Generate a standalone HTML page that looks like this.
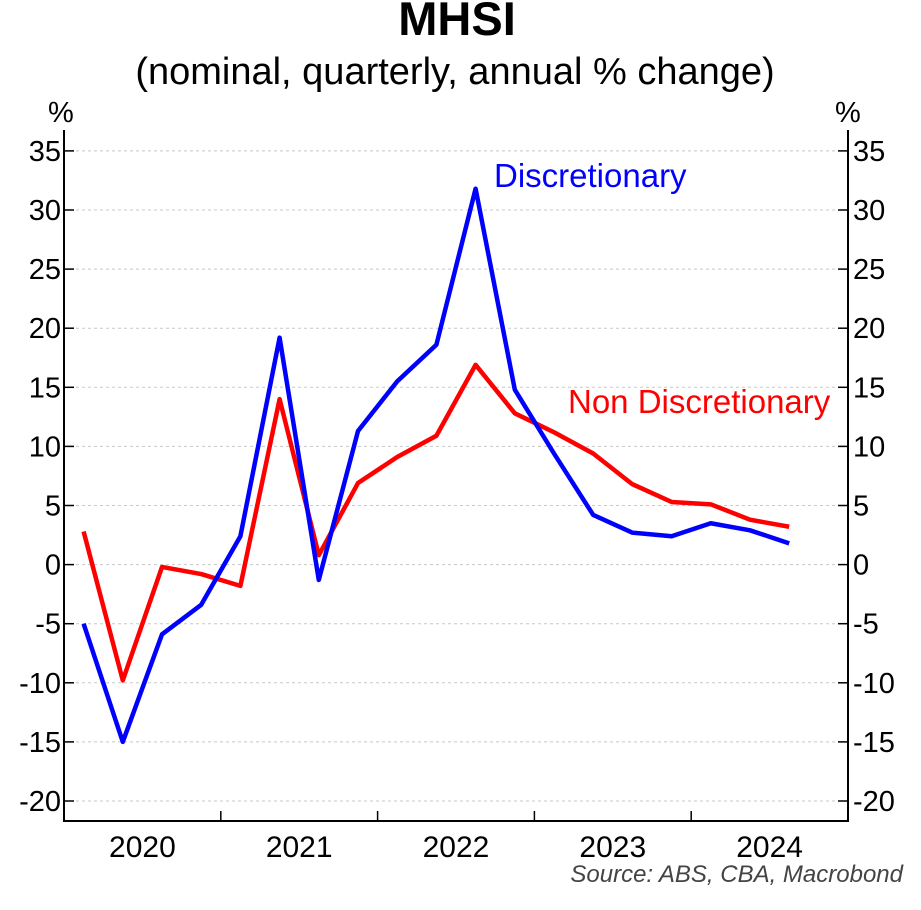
<!DOCTYPE html>
<html><head><meta charset="utf-8"><style>
body{margin:0;background:#fff;}
svg text{font-family:"Liberation Sans",Arial,sans-serif;}
</style></head><body>
<svg width="921" height="905" xmlns="http://www.w3.org/2000/svg">
<text x="457" y="35" text-anchor="middle" font-size="47" font-weight="bold">MHSI</text>
<text x="455" y="84" text-anchor="middle" font-size="38">(nominal, quarterly, annual % change)</text>
<text x="48" y="122" font-size="29">%</text>
<text x="835" y="122" font-size="29">%</text>
<g id="grid"></g>
<g id="axes"></g>
<g id="series"></g>
<text x="494" y="187" font-size="33" fill="#0000ff">Discretionary</text>
<text x="568" y="413" font-size="33" fill="#ff0000">Non Discretionary</text>
<text x="903" y="882" text-anchor="end" font-size="24" font-style="italic" fill="#444">Source: ABS, CBA, Macrobond</text>
</svg>
<script>
const years = ["2020","2021","2022","2023","2024"];
const yTicks = [35,30,25,20,15,10,5,0,-5,-10,-15,-20];
const discretionary = [-5,-15,-5.9,-3.4,2.4,19.2,-1.3,11.3,15.5,18.6,31.8,14.8,9.4,4.2,2.7,2.4,3.5,2.9,1.8];
const nonDiscretionary = [2.8,-9.8,-0.2,-0.8,-1.8,14.0,0.8,6.9,9.1,10.9,16.9,12.8,11.2,9.4,6.8,5.3,5.1,3.8,3.2];
const L=64,R=848,T=130,B=821;
const Y=v=>564.6-v*11.82;
const qW=(R-L)/20;
const X=i=>L+qW*(i+0.5);
const NS="http://www.w3.org/2000/svg";
function mk(tag,attrs,parent){const e=document.createElementNS(NS,tag);for(const k in attrs)e.setAttribute(k,attrs[k]);parent.appendChild(e);return e;}
const grid=document.getElementById('grid'),axes=document.getElementById('axes'),series=document.getElementById('series');
yTicks.forEach(v=>{
  const g=mk('line',{x1:L,x2:R,y1:Y(v),y2:Y(v),stroke:'#c8c8c8','stroke-width':1,'stroke-dasharray':'3,3'},grid);
  
  
  mk('line',{x1:L,x2:L+10,y1:Y(v),y2:Y(v),stroke:'#000','stroke-width':1.5},axes);
  mk('line',{x1:R-10,x2:R,y1:Y(v),y2:Y(v),stroke:'#000','stroke-width':1.5},axes);
  const t1=mk('text',{x:L-3,y:Y(v)+10,'text-anchor':'end','font-size':29},axes);t1.textContent=v;
  
  
  const t2=mk('text',{x:R+5,y:Y(v)+10,'font-size':29},axes);t2.textContent=v;
  
  
});
mk('polyline',{points:`${L},${T} ${L},${B} ${R},${B} ${R},${T}`,fill:'none',stroke:'#000','stroke-width':2},axes);
years.forEach((y,i)=>{
  const x0=L+i*4*qW;
  if(i>0) mk('line',{x1:x0,x2:x0,y1:B,y2:B-10,stroke:'#000','stroke-width':1.5},axes);
  const t=mk('text',{x:x0+2*qW,y:B+36,'text-anchor':'middle','font-size':30},axes);t.textContent=y;
  
  
});
function line(data,color,name){
  const p=mk('polyline',{points:data.map((v,i)=>X(i)+','+Y(v)).join(' '),fill:'none',stroke:color,'stroke-width':4.5,'stroke-linejoin':'round'},series);
  
  
}
line(nonDiscretionary,'#ff0000','non-discretionary-line');
line(discretionary,'#0000ff','discretionary-line');
</script>
</body></html>
